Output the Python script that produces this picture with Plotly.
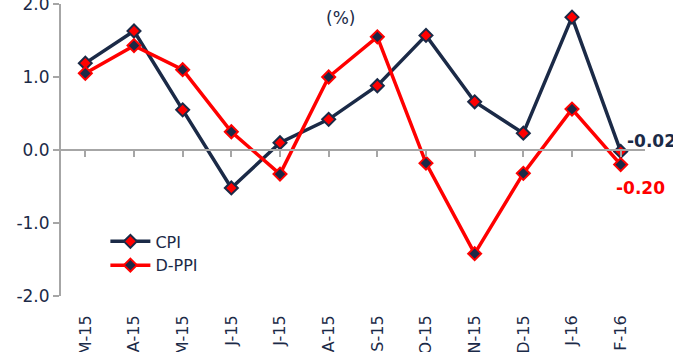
import plotly.graph_objects as go

months = ["M-15", "A-15", "M-15", "J-15", "J-15", "A-15", "S-15", "O-15",
          "N-15", "D-15", "J-16", "F-16"]
cpi = [1.19, 1.63, 0.55, -0.52, 0.10, 0.42, 0.88, 1.57, 0.66, 0.23, 1.82, -0.02]
dppi = [1.05, 1.43, 1.10, 0.25, -0.33, 1.00, 1.55, -0.18, -1.42, -0.32, 0.56, -0.20]
y_ticks = [2.0, 1.0, 0.0, -1.0, -2.0]

NAVY = "#1B2A47"
RED = "#FF0000"
AXIS = "#A6A6A6"
FONT = "DejaVu Sans"

x_idx = list(range(len(months)))

fig = go.Figure()
fig.add_trace(go.Scatter(
    x=x_idx, y=cpi, name="CPI", mode="lines+markers",
    line=dict(color=NAVY, width=3.5),
    marker=dict(symbol="diamond", size=10, color=RED,
                line=dict(color=NAVY, width=2)),
))
fig.add_trace(go.Scatter(
    x=x_idx, y=dppi, name="D-PPI", mode="lines+markers",
    line=dict(color=RED, width=3.5),
    marker=dict(symbol="diamond", size=10, color=NAVY,
                line=dict(color=RED, width=2)),
))

# end-of-series value labels
fig.add_annotation(x=x_idx[-1], y=cpi[-1], text="<b>%.2f</b>" % cpi[-1],
                   showarrow=False, xanchor="left", yanchor="middle",
                   xshift=4, yshift=10, font=dict(family=FONT, size=17, color=NAVY))
fig.add_annotation(x=x_idx[-1], y=dppi[-1], text="<b>%.2f</b>" % dppi[-1],
                   showarrow=False, xanchor="left", yanchor="middle",
                   xshift=-7, yshift=-23, font=dict(family=FONT, size=17, color=RED))

# unit note under the title
fig.add_annotation(xref="paper", yref="paper", x=0.479, y=1.0, yshift=-14,
                   text="(%)", showarrow=False, xanchor="center", yanchor="middle",
                   font=dict(family=FONT, size=17, color=NAVY))

fig.update_layout(
    width=673, height=352,
    margin=dict(l=61, r=28, t=4, b=56),
    paper_bgcolor="white", plot_bgcolor="white",
    font=dict(family=FONT, color=NAVY),
    showlegend=True,
    legend=dict(x=0.076, y=0.245, xanchor="left", yanchor="top",
                bgcolor="rgba(0,0,0,0)", font=dict(family=FONT, size=16, color=NAVY),
                tracegroupgap=0, itemwidth=40),
    xaxis=dict(
        range=[-0.5, len(months) - 0.5], automargin=False,
        tickmode="array", tickvals=x_idx, ticktext=months,
        tickangle=-90, showline=False, showgrid=False, zeroline=False,
        ticks="outside", ticklen=12, tickcolor="rgba(0,0,0,0)",
        tickfont=dict(family=FONT, size=16, color=NAVY),
    ),
    xaxis2=dict(
        overlaying="x", anchor="free", position=0.5, side="bottom",
        range=[-0.5, len(months) - 0.5], automargin=False,
        tickmode="array", tickvals=x_idx, ticktext=[""] * len(months),
        tickson="boundaries", ticks="outside", ticklen=6, tickwidth=2,
        tickcolor=AXIS, showline=True, linecolor=AXIS, linewidth=2,
        showgrid=False, zeroline=False, showticklabels=False,
    ),
    yaxis=dict(
        range=[-2, 2], automargin=False, tickmode="array", tickvals=y_ticks,
        ticktext=["%.1f" % v for v in y_ticks],
        ticklabeloverflow="allow",
        showline=True, linecolor=AXIS, linewidth=2,
        ticks="outside", ticklen=6, tickwidth=2, tickcolor=AXIS,
        showgrid=False, zeroline=False,
        tickfont=dict(family=FONT, size=17, color=NAVY),
    ),
)

# invisible trace to activate the zero-level category axis
fig.add_trace(go.Scatter(x=[0], y=[0], xaxis="x2", mode="markers",
                         marker=dict(opacity=0), showlegend=False, hoverinfo="skip"))

fig.write_html("out.html")
